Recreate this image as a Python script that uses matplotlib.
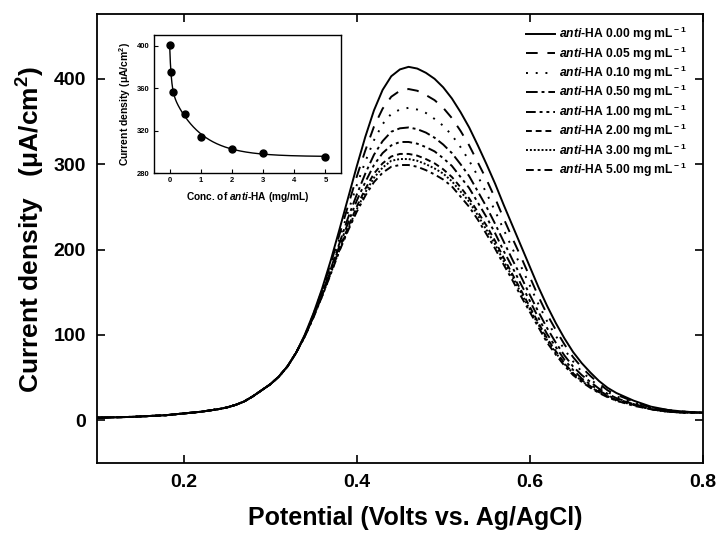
import numpy as np
import matplotlib
matplotlib.use("agg")
import matplotlib.pyplot as plt

plt.rcParams["font.family"] = ["Liberation Sans", "DejaVu Sans"]
plt.rcParams["font.weight"] = "bold"
plt.rcParams["mathtext.fontset"] = "custom"
plt.rcParams["mathtext.rm"] = "Liberation Sans:bold"
plt.rcParams["mathtext.it"] = "Liberation Sans:bold:italic"
plt.rcParams["mathtext.bf"] = "Liberation Sans:bold"

# potential (V)
potential = [0.10, 0.12, 0.14, 0.16, 0.18, 0.20, 0.22, 0.24,
             0.25, 0.26, 0.27, 0.28, 0.29, 0.30, 0.31, 0.32, 0.33,
             0.34, 0.35, 0.36, 0.37, 0.38, 0.39, 0.40, 0.41, 0.42, 0.43,
             0.44, 0.45, 0.46, 0.47, 0.48, 0.49, 0.50, 0.51, 0.52, 0.53,
             0.54, 0.55, 0.56, 0.57, 0.58, 0.59, 0.60, 0.61, 0.62, 0.63,
             0.64, 0.65, 0.66, 0.67, 0.68, 0.69, 0.70,
             0.72, 0.74, 0.76, 0.78, 0.80]
# foot of the wave, where all curves overlap
rise = [3, 3.5, 4, 5, 6, 8, 10, 13, 15, 18, 22, 28, 35, 42, 51, 63, 79]

conc_labels = ["0.00", "0.05", "0.10", "0.50", "1.00", "2.00", "3.00", "5.00"]
cd_000 = rise + [100, 125, 154, 187, 223, 260, 297, 332, 363, 387, 403, 411, 414, 412, 407, 400,
                 390, 377, 361, 343, 322, 300, 277, 252, 228, 204, 180, 156, 134, 114, 96, 80,
                 67, 56, 46, 38, 32, 23, 16, 12, 10, 9]
cd_005 = rise + [99, 124, 152, 183, 217, 251, 285, 316, 344, 365, 379, 386, 388, 386, 381, 375,
                 366, 354, 339, 322, 302, 282, 260, 236, 213, 191, 168, 145, 124, 106, 89, 74,
                 62, 52, 43, 35, 30, 22, 15, 12, 10, 9]
cd_010 = rise + [99, 123, 150, 180, 212, 244, 275, 303, 328, 347, 359, 364, 366, 364, 360, 353,
                 345, 334, 320, 304, 286, 266, 245, 223, 201, 180, 158, 136, 116, 99, 83, 69,
                 57, 48, 40, 33, 28, 21, 15, 11, 10, 9]
cd_050 = rise + [99, 122, 148, 177, 207, 237, 264, 289, 311, 327, 338, 342, 343, 341, 337, 331,
                 323, 313, 300, 286, 268, 250, 230, 209, 188, 168, 147, 127, 108, 91, 76, 63,
                 53, 45, 37, 31, 26, 19, 14, 11, 9, 9]
cd_100 = rise + [98, 121, 147, 175, 204, 231, 257, 279, 299, 313, 322, 326, 326, 324, 320, 315,
                 307, 298, 285, 272, 255, 238, 219, 198, 179, 159, 140, 120, 101, 86, 71, 59,
                 49, 42, 35, 29, 25, 19, 13, 10, 9, 9]
cd_200 = rise + [98, 121, 146, 173, 201, 226, 250, 271, 289, 301, 309, 312, 312, 310, 306, 301,
                 294, 285, 273, 260, 244, 228, 210, 190, 171, 152, 133, 114, 96, 81, 67, 55,
                 47, 40, 33, 28, 24, 18, 13, 10, 9, 9]
cd_300 = rise + [98, 121, 145, 172, 199, 224, 247, 267, 284, 296, 304, 306, 306, 304, 300, 295,
                 289, 280, 268, 256, 240, 223, 206, 186, 168, 149, 130, 112, 94, 79, 66, 55,
                 46, 39, 33, 28, 23, 18, 13, 10, 9, 9]
cd_500 = rise + [98, 120, 145, 171, 198, 222, 244, 263, 279, 290, 297, 299, 299, 297, 293, 288,
                 282, 274, 262, 250, 235, 218, 201, 182, 164, 145, 127, 109, 91, 77, 64, 53,
                 45, 38, 32, 27, 23, 17, 13, 10, 9, 9]
curves = [cd_000, cd_005, cd_010, cd_050, cd_100, cd_200, cd_300, cd_500]

# inset: peak current vs concentration
inset_conc = [0, 0.05, 0.1, 0.5, 1, 2, 3, 5]
inset_peak = [401, 375, 356, 336, 314, 303, 299, 295]

styles = ["-", (0, (6, 5)), (0, (1, 4)), (0, (6, 2, 1.5, 2)),
          (0, (5, 2, 1.5, 2, 1.5, 2)), (0, (3, 2)), (0, (1, 1)),
          (0, (4, 2, 1.5, 2))]

fig = plt.figure(figsize=(7.18, 5.35), dpi=100)
ax = fig.add_axes([0.135, 0.1346, 0.844, 0.8394])

for vals, lab, ls in zip(curves, conc_labels, styles):
    ax.plot(potential, vals, color="black", lw=1.4, linestyle=ls,
            label=r"$\it{anti}$-HA " + lab + r" mg mL$^{\rm -1}$")

ax.set_xlim(0.1, 0.8)
ax.set_ylim(-50, 476)
ax.set_xticks([0.2, 0.4, 0.6, 0.8])
ax.set_yticks([0, 100, 200, 300, 400])
ax.tick_params(direction="in", length=6, width=1.2, top=True, right=True,
               labelsize=14, pad=8)
for lbl in ax.get_xticklabels() + ax.get_yticklabels():
    lbl.set_fontweight("bold")
for s in ax.spines.values():
    s.set_linewidth(1.3)
ax.set_xlabel("Potential (Volts vs. Ag/AgCl)", fontsize=18, fontweight="bold")
ax.xaxis.set_label_coords(0.525, -0.095)
ax.set_ylabel(r"Current density   (μA/cm$^{\rm 2}$)", fontsize=19, fontweight="bold")
ax.yaxis.set_label_coords(-0.083, 0.52)

leg = ax.legend(loc="upper right", frameon=False, fontsize=8.7, handlelength=2.4,
                labelspacing=0.1, handletextpad=0.4, borderaxespad=0.0,
                bbox_to_anchor=(0.982, 0.986))
for t in leg.get_texts():
    t.set_fontweight("bold")

# fitted decay curve through the inset points (c + a1*exp(-x/t1) + a2*exp(-x/t2))
xc = np.array(inset_conc, dtype=float)
yc = np.array(inset_peak, dtype=float)
best = None
for t1 in np.linspace(0.02, 0.3, 29):
    for t2 in np.linspace(0.3, 3.0, 28):
        A = np.column_stack([np.ones_like(xc), np.exp(-xc / t1), np.exp(-xc / t2)])
        coef, *_ = np.linalg.lstsq(A, yc, rcond=None)
        err = np.sum((A @ coef - yc) ** 2)
        if best is None or err < best[0]:
            best = (err, t1, t2, coef)
_, t1, t2, coef = best
xf = np.linspace(0, 5, 400)
yf = coef[0] + coef[1] * np.exp(-xf / t1) + coef[2] * np.exp(-xf / t2)

ins = fig.add_axes([0.2145, 0.6766, 0.2605, 0.258])
ins.plot(xf, yf, color="black", lw=1.0)
ins.plot(inset_conc, inset_peak, "o", color="black", markersize=5)
ins.set_xlim(-0.5, 5.5)
ins.set_ylim(280, 410)
ins.set_xticks([0, 1, 2, 3, 4, 5])
ins.set_yticks([280, 320, 360, 400])
ins.tick_params(direction="in", length=3, width=0.8, labelsize=5.5, pad=3)
for lbl in ins.get_xticklabels() + ins.get_yticklabels():
    lbl.set_fontweight("bold")
for s in ins.spines.values():
    s.set_linewidth(1.0)
ins.set_xlabel(r"Conc. of $\it{anti}$-HA (mg/mL)", fontsize=7.3, fontweight="bold", labelpad=4)
ins.set_ylabel(r"Current density (μA/cm$^{\rm 2}$)", fontsize=7.5, fontweight="bold", labelpad=3)

fig.savefig("out.png", dpi=100)
